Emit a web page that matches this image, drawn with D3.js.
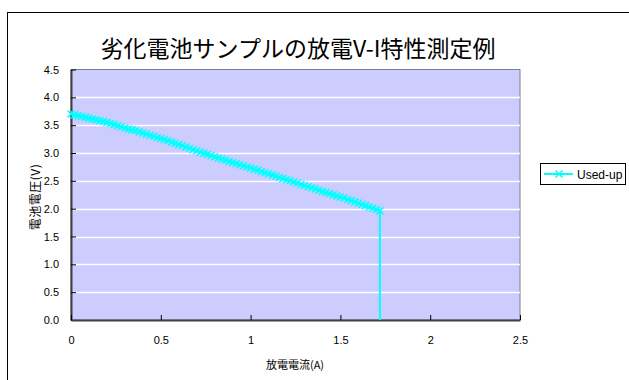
<!DOCTYPE html>
<html><head><meta charset="utf-8">
<script src="https://cdn.jsdelivr.net/npm/d3@7"></script>
<style>body{margin:0;background:#fff;overflow:hidden}svg{display:block}</style>
</head><body>
<script>
const titleText = "劣化電池サンプルの放電V-I特性測定例";
const xAxisTitle = "放電電流(A)";
const yAxisTitle = "電池電圧(V)";
const seriesName = "Used-up";
const xTicks = [0, 0.5, 1, 1.5, 2, 2.5];
const xTickLabels = ["0", "0.5", "1", "1.5", "2", "2.5"];
const yTicks = [0, 0.5, 1, 1.5, 2, 2.5, 3, 3.5, 4, 4.5];
const yTickLabels = ["0.0","0.5","1.0","1.5","2.0","2.5","3.0","3.5","4.0","4.5"];
const current = [0,0.02,0.04,0.06,0.08,0.10,0.12,0.14,0.16,0.18,0.20,0.22,0.24,0.26,0.28,0.30,0.32,0.34,0.36,0.38,0.40,0.42,0.44,0.46,0.48,0.50,0.52,0.54,0.56,0.58,0.60,0.62,0.64,0.66,0.68,0.70,0.72,0.74,0.76,0.78,0.80,0.82,0.84,0.86,0.88,0.90,0.92,0.94,0.96,0.98,1.00,1.02,1.04,1.06,1.08,1.10,1.12,1.14,1.16,1.18,1.20,1.22,1.24,1.26,1.28,1.30,1.32,1.34,1.36,1.38,1.40,1.42,1.44,1.46,1.48,1.50,1.52,1.54,1.56,1.58,1.60,1.62,1.64,1.66,1.68,1.70,1.72,1.72];
const voltage = [3.70,3.685,3.67,3.655,3.64,3.625,3.61,3.595,3.58,3.565,3.55,3.53,3.51,3.49,3.47,3.45,3.43,3.415,3.40,3.38,3.36,3.34,3.32,3.30,3.28,3.26,3.24,3.22,3.195,3.175,3.15,3.13,3.105,3.085,3.06,3.04,3.015,2.995,2.975,2.955,2.93,2.91,2.89,2.87,2.85,2.83,2.81,2.79,2.77,2.75,2.73,2.71,2.69,2.665,2.645,2.625,2.605,2.585,2.56,2.54,2.52,2.50,2.48,2.46,2.435,2.415,2.395,2.375,2.355,2.33,2.31,2.29,2.27,2.25,2.23,2.21,2.19,2.165,2.145,2.12,2.10,2.075,2.055,2.03,2.01,1.985,1.96,0];

const W = 629, H = 380;
const svg = d3.select("body").append("svg").attr("width", W).attr("height", H);
svg.append("rect").attr("width", W).attr("height", H).attr("fill", "#fff");
svg.append("rect").attr("x", 7.5).attr("y", 12.5).attr("width", 700).attr("height", 500)
  .attr("fill", "none").attr("stroke", "#000").attr("stroke-width", 1);

const plot = {left: 71, right: 520, top: 69.5, bottom: 320};
const x = d3.scaleLinear().domain([0, 2.5]).range([plot.left, plot.right]);
const y = d3.scaleLinear().domain([0, 4.5]).range([plot.bottom, plot.top]);

svg.append("rect").attr("x", plot.left).attr("y", plot.top)
  .attr("width", plot.right - plot.left).attr("height", plot.bottom - plot.top)
  .attr("fill", "#CCCCFF").attr("stroke", "#808080").attr("stroke-width", 1);

svg.append("g").selectAll("line").data(yTicks.filter(d => d > 0 && d < 4.5)).join("line")
  .attr("x1", plot.left).attr("x2", plot.right)
  .attr("y1", d => Math.round(y(d)) + 0.5).attr("y2", d => Math.round(y(d)) + 0.5)
  .attr("stroke", "#fff").attr("stroke-width", 1.5);

const fontLat = "'Liberation Sans', Arial, sans-serif";
const yAxis = d3.axisLeft(y).tickValues(yTicks).tickFormat((d, i) => yTickLabels[i]).tickSizeInner(-5).tickSizeOuter(0).tickPadding(12);
const gy = svg.append("g").attr("transform", `translate(${plot.left},0)`).call(yAxis);
gy.select(".domain").attr("stroke", "#404040").attr("stroke-width", 2);
gy.selectAll(".tick line").attr("stroke", "#000").attr("stroke-width", 1);
gy.selectAll(".tick text").attr("font-family", fontLat).attr("font-size", 11).attr("fill", "#000");

const xAxis = d3.axisBottom(x).tickValues(xTicks).tickFormat((d, i) => xTickLabels[i]).tickSizeInner(-5).tickSizeOuter(0).tickPadding(16);
const gx = svg.append("g").attr("transform", `translate(0,${plot.bottom})`).call(xAxis);
gx.select(".domain").attr("stroke", "#404040").attr("stroke-width", 2);
gx.selectAll(".tick line").attr("stroke", "#000").attr("stroke-width", 1);
gx.selectAll(".tick text").attr("font-family", fontLat).attr("font-size", 11).attr("fill", "#000");

const pts = current.map((c, i) => [c, voltage[i]]);
svg.append("path").datum(pts)
  .attr("d", d3.line().x(d => x(d[0])).y(d => y(d[1])))
  .attr("fill", "none").attr("stroke", "#00FFFF").attr("stroke-width", 2);
const ms = 3.5;
const markerPath = `M${-ms},${-ms}L${ms},${ms}M${-ms},${ms}L${ms},${-ms}`;
svg.append("g").selectAll("path").data(pts.slice(0, pts.length - 1)).join("path")
  .attr("transform", d => `translate(${x(d[0])},${y(d[1])})`)
  .attr("d", markerPath).attr("stroke", "#00FFFF").attr("stroke-width", 1.5).attr("fill", "none");

const fontJa = "'Noto Sans CJK JP', sans-serif";
svg.append("text").attr("x", 298).attr("y", 57).attr("text-anchor", "middle")
  .attr("font-family", fontJa).attr("font-size", 23).attr("fill", "#000").text(titleText);

svg.append("text").attr("x", 295).attr("y", 369).attr("text-anchor", "middle")
  .attr("font-family", fontJa).attr("font-size", 11).attr("fill", "#000").text(xAxisTitle);
svg.append("text").attr("transform", "translate(40,197) rotate(-90)").attr("text-anchor", "middle")
  .attr("font-family", fontJa).attr("font-size", 12).attr("letter-spacing", 0.5).attr("fill", "#000").text(yAxisTitle);

const lg = svg.append("g");
lg.append("rect").attr("x", 540.5).attr("y", 163.5).attr("width", 85).attr("height", 21)
  .attr("fill", "#fff").attr("stroke", "#000").attr("stroke-width", 1);
lg.append("line").attr("x1", 544).attr("x2", 573).attr("y1", 174).attr("y2", 174)
  .attr("stroke", "#00FFFF").attr("stroke-width", 2);
lg.append("path").attr("transform", "translate(559,174)").attr("d", markerPath)
  .attr("stroke", "#00FFFF").attr("stroke-width", 1.5);
lg.append("text").attr("x", 577).attr("y", 178.5).attr("font-family", fontLat)
  .attr("font-size", 12).attr("fill", "#000").text(seriesName);
</script>
</body></html>
